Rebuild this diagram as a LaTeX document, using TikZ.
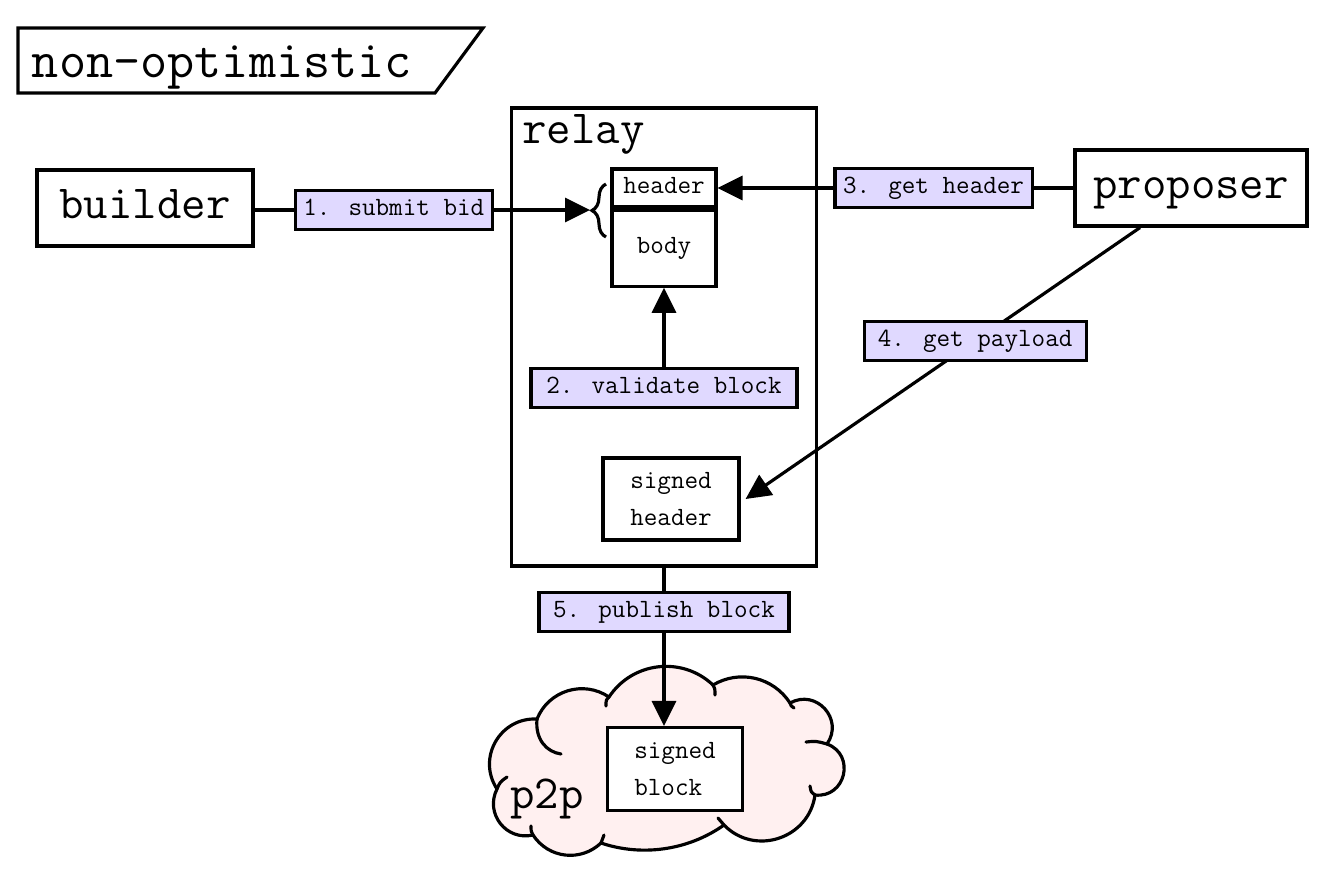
\documentclass[tikz,border=0pt]{standalone}
\usepackage{fontspec}
\usetikzlibrary{arrows.meta,calc,decorations.pathreplacing}
\definecolor{steplav}{HTML}{E0D9FF}
\definecolor{cloudpink}{HTML}{FFF0F0}
\newcommand{\puff}[4]{.. controls ($(#1)!#3!#4:(#2)$) and ($(#2)!#3!-#4:(#1)$) .. (#2)}

\begin{document}
\begin{tikzpicture}[x=0.2mm,y=-0.2mm,
 box/.style={draw=black,line width=1.8pt,fill=white,inner sep=0pt},
 big/.style={font=\ttfamily\fontsize{27}{30}\selectfont,text height=11.6pt,text depth=0pt},
 smalltext/.style={font=\ttfamily\fontsize{15}{21}\selectfont},
 small/.style={smalltext,text height=6.5pt,text depth=0pt},
 ar/.style={-{Triangle[length=5mm,width=4.8mm]},line width=1.8pt},
 lbl/.style={draw=black,line width=1.8pt,fill=steplav,inner xsep=1.6mm,minimum height=7.8mm,small}]
\useasboundingbox (0,0) rectangle (1326,878);
\node[anchor=base,inner sep=0pt,font=\ttfamily\fontsize{30}{34}\selectfont] (title) at (222,77) {non-optimistic};
\draw[line width=1.8pt] (18,28) -- (483,28) -- (435,93) -- (18,93) -- cycle;
\node[box,big,minimum width=43.2mm,minimum height=15.2mm] (builder) at (145,208) {builder};
\node[box,big,minimum width=46.4mm,minimum height=15.2mm] (proposer) at (1191,188) {proposer};
\node[box,minimum width=61mm,minimum height=91.6mm] (relay) at (664,337) {};
\node[big,anchor=base west,inner sep=0pt] (relaylabel) at (522,143) {relay};
\node[box,small,minimum width=20.8mm,minimum height=7.6mm] (header) at (664,188) {header};
\node[box,small,minimum width=20.8mm,minimum height=15.2mm,anchor=north] (body) at (header.south) {body};
\node[lbl,minimum width=53.2mm] (validate) at (664,388) {2. validate block};
\node[box,smalltext,align=left,minimum width=27.2mm,minimum height=16.4mm] (signedheader) at (671,499) {signed\\header};
\foreach \n/\p in {1/{537,719},2/{609,697},3/{713,685},4/{790,703},5/{827,744},6/{815,795},7/{724,825},8/{601,843},9/{533,835},10/{497,789}}
 \coordinate (v\n) at (\p);
\filldraw[line width=1.8pt,fill=cloudpink,line join=round] (v10) \puff{v10}{v1}{.46}{63} \puff{v1}{v2}{.41}{51}
 \puff{v2}{v3}{.405}{50} \puff{v3}{v4}{.39}{44} \puff{v4}{v5}{.545}{77} \puff{v5}{v6}{.59}{83}
 \puff{v6}{v7}{.46}{64} \puff{v7}{v8}{.35}{27} \puff{v8}{v9}{.41}{50} \puff{v9}{v10}{.47}{65} -- cycle;
\draw[line width=1.8pt,line cap=round] (v1) .. controls (535,740) and (547,752) .. (561,754)
 (v2) .. controls (606,700) .. (606,706) (v3) .. controls (715,689) .. (715,695)
 (v4) .. controls (791,706) .. (794,708) (v5) .. controls (816,741) .. (806,742)
 (v6) .. controls (811,792) .. (810,786) (v7) .. controls (721,821) .. (718,818)
 (v8) .. controls (602,839) .. (604,835) (v9) .. controls (531,831) .. (531,826)
 (v10) .. controls (500,782) .. (507,777);
\node[big,anchor=base,text height=,text depth=] (p2p) at (547,808) {p2p};
\node[box,smalltext,align=left,minimum width=27mm,minimum height=16.6mm] (signedblock) at (675,769) {signed\\block};
\coordinate (bracetip) at (590,210);
\draw[line width=1.8pt,decorate,decoration={brace,amplitude=2.8mm}] (606,237) -- (606,184);
\draw[ar] (builder.east |- bracetip) -- node[lbl,pos=.415,minimum width=39.4mm] {1. submit bid} (bracetip);
\draw[ar] (proposer) -- node[lbl,pos=.393,minimum width=39.2mm] {3. get header} (header.east);
\draw[ar] (validate) -- (body);
\draw[ar] ([xshift=-10.2mm]proposer.south) -- node[lbl,pos=.418,minimum width=44.4mm] {4. get payload} ([xshift=1mm]signedheader.east);
\draw[ar] (relay.south) -- node[lbl,pos=.28,minimum width=50mm] {5. publish block} (relay.south |- signedblock.north);
\end{tikzpicture}
\end{document}
